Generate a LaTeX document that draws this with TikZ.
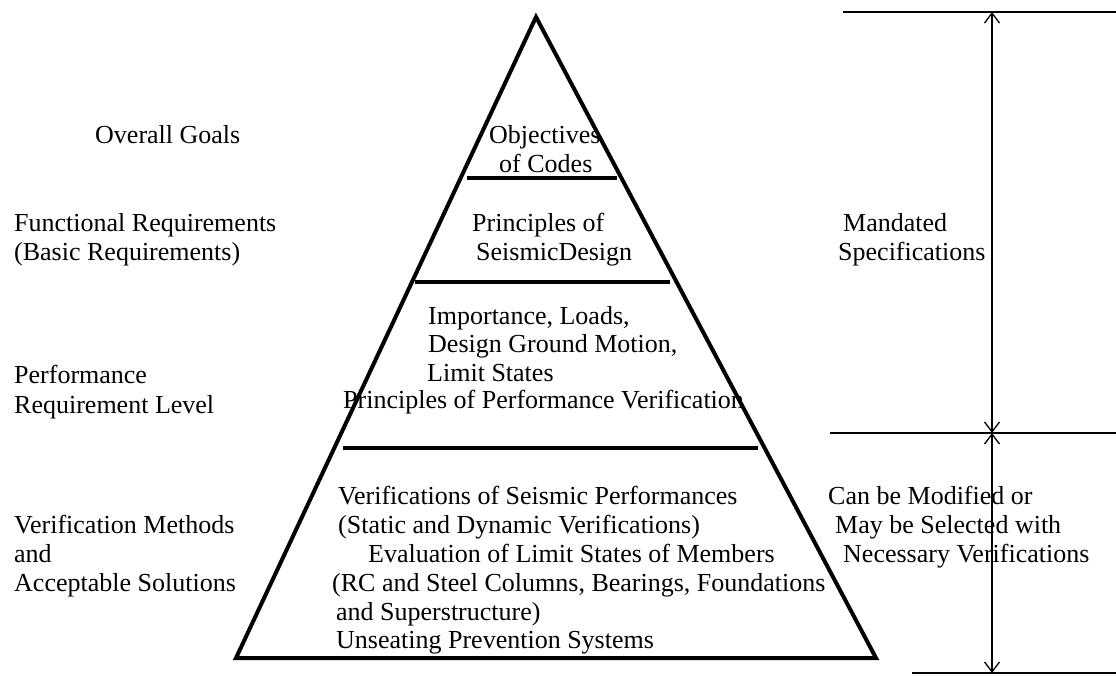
\documentclass[tikz,border=0pt]{standalone}
\usepackage{fontspec}
\setmainfont{Liberation Serif}
\usetikzlibrary{arrows.meta}
\begin{document}
\begin{tikzpicture}[x=1pt,y=-1pt,
  lbl/.style={anchor=base west,inner sep=0pt,font=\fontsize{26}{28}\selectfont},
  band/.style={line width=4pt},
  tri/.style={line width=4pt,line join=miter},
  dimline/.style={line width=1.3pt},
  dimarrow/.style={line width=1.3pt,{Straight Barb[length=10pt,width=15pt]}-{Straight Barb[length=10pt,width=15pt]}}]
\useasboundingbox (0,0) rectangle (1116,675);
% pyramid
\coordinate (apex) at (536,17);
\coordinate (bl) at (236,658);
\coordinate (brc) at (876,658);
\draw[tri] (apex) -- (bl) -- (brc) -- cycle;
% band lines
\coordinate (b1l) at (467,178); \coordinate (b1r) at (617,178);
\coordinate (b2l) at (415,282); \coordinate (b2r) at (670,282);
\coordinate (b3l) at (343,448); \coordinate (b3r) at (758,448);
\draw[band] (b1l) -- (b1r);
\draw[band] (b2l) -- (b2r);
\draw[band] (b3l) -- (b3r);
% left labels
\node[lbl] (og) at (95,143) {Overall Goals};
\node[lbl] (fr) at (14,231) {Functional Requirements};
\node[lbl] (bre) at (14,260) {(Basic Requirements)};
\node[lbl] (prf) at (14,383) {Performance};
\node[lbl] (rl) at (14,413) {Requirement Level};
\node[lbl] (vm) at (14,533) {Verification Methods};
\node[lbl] (andl) at (14,562) {and};
\node[lbl] (as) at (14,591) {Acceptable Solutions};
% pyramid texts
\node[lbl] (obj) at (489,143) {Objectives};
\node[lbl] (oc) at (499,172) {of Codes};
\node[lbl] (pof) at (472,231) {Principles of};
\node[lbl] (sd) at (476,260) {SeismicDesign};
\node[lbl] (imp) at (428,324) {Importance, Loads,};
\node[lbl] (dgm) at (428,352) {Design Ground Motion,};
\node[lbl] (ls) at (427,381) {Limit States};
\node[lbl] (ppv) at (343,408) {Principles of Performance Verification};
\node[lbl] (vsp) at (338,504) {Verifications of Seismic Performances};
\node[lbl] (sdv) at (338,533) {(Static and Dynamic Verifications)};
\node[lbl] (elm) at (368,562) {Evaluation of Limit States of Members};
\node[lbl] (rc) at (332,591) {(RC and Steel Columns, Bearings, Foundations};
\node[lbl] (sup) at (336,620) {and Superstructure)};
\node[lbl] (usp) at (336,648) {Unseating Prevention Systems};
% right labels
\node[lbl] (man) at (843,231) {Mandated};
\node[lbl] (spec) at (838,260) {Specifications};
\node[lbl] (cbm) at (828,504) {Can be Modified or};
\node[lbl] (mbs) at (835,533) {May be Selected with};
\node[lbl] (nv) at (843,562) {Necessary Verifications};
% dimension lines
\coordinate (ht1) at (843,12); \coordinate (ht2) at (1116,12);
\coordinate (hm1) at (830,433); \coordinate (hm2) at (1116,433);
\coordinate (hb1) at (912,673); \coordinate (hb2) at (1116,673);
\draw[dimline] (ht1) -- (ht2);
\draw[dimline] (hm1) -- (hm2);
\draw[dimline] (hb1) -- (hb2);
\coordinate (dt) at (992,12);
\coordinate (dm) at (992,433);
\coordinate (db) at (992,673);
\draw[dimarrow] (dt) -- (dm);
\draw[dimarrow] (dm) -- (db);
\end{tikzpicture}
\end{document}
